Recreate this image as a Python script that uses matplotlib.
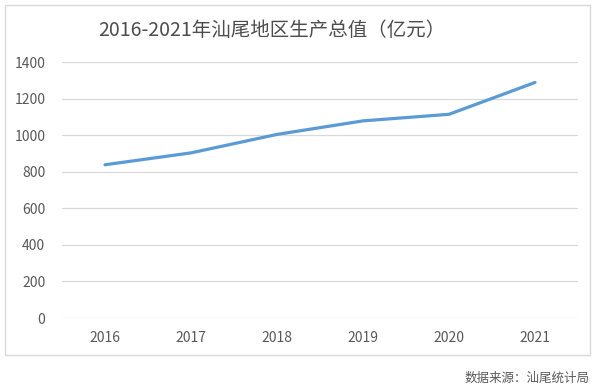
import matplotlib.pyplot as plt
import matplotlib.patches as patches

plt.rcParams['font.family'] = ['Noto Sans CJK SC', 'DejaVu Sans']

# data
years = ['2016', '2017', '2018', '2019', '2020', '2021']
gdp = [838, 903, 1004, 1078, 1114, 1288]
yticks = [0, 200, 400, 600, 800, 1000, 1200, 1400]

fig = plt.figure(figsize=(6, 3.88), dpi=100)

# outer border of the chart area
border = patches.Rectangle((5 / 600, 33 / 388), 585 / 600, 350 / 388,
                           transform=fig.transFigure, fill=False,
                           edgecolor='#D9D9D9', linewidth=1)
fig.patches.append(border)

ax = fig.add_axes([62 / 600, 1 - 318 / 388, 516 / 600, 256 / 388])
x = list(range(len(years)))
ax.plot(x, gdp, color='#5B9BD5', linewidth=2.3, solid_capstyle='round',
        solid_joinstyle='round', zorder=3)

ax.set_xlim(-0.5, len(years) - 0.5)
ax.set_ylim(0, 1400)
ax.set_yticks(yticks)
ax.set_xticks(x)
ax.set_xticklabels(years)
ax.grid(axis='y', color='#D9D9D9', linewidth=0.9)
ax.set_axisbelow(True)
for s in ax.spines.values():
    s.set_visible(False)
ax.tick_params(length=0, colors='#595959', labelsize=10)
ax.tick_params(axis='y', pad=12)
ax.tick_params(axis='x', pad=9)

fig.text(272 / 600, 1 - 31 / 388, '2016-2021年汕尾地区生产总值（亿元）',
         ha='center', va='center', fontsize=14, color='#4D4D4D')
fig.text(590 / 600, 1 - 378 / 388, '数据来源：汕尾统计局',
         ha='right', va='center', fontsize=9, color='#595959')

fig.savefig('out.png', dpi=100)
